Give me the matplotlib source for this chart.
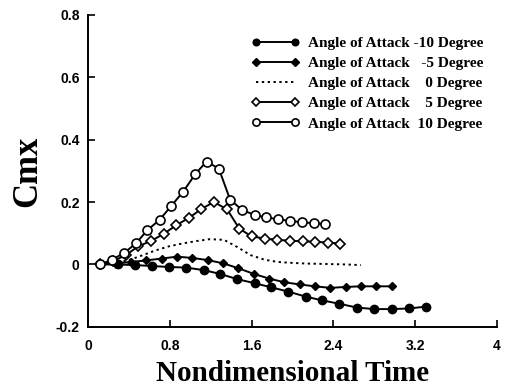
import matplotlib
matplotlib.use("Agg")
import matplotlib.pyplot as plt

# nondimensional time and Cmx, one pair of lists per angle
t_m10 = [0.12, 0.29, 0.46, 0.63, 0.79, 0.96, 1.13, 1.29, 1.46, 1.63,
         1.79, 1.96, 2.13, 2.29, 2.46, 2.63, 2.80, 2.97, 3.14, 3.31]
cmx_m10 = [0.0, 0.0, -0.002, -0.005, -0.008, -0.010, -0.018, -0.030, -0.047, -0.060,
           -0.073, -0.087, -0.103, -0.115, -0.126, -0.138, -0.143, -0.143, -0.141, -0.135]

t_m5 = [0.12, 0.27, 0.42, 0.57, 0.72, 0.87, 1.02, 1.17, 1.32, 1.47,
        1.62, 1.77, 1.92, 2.07, 2.22, 2.37, 2.52, 2.67, 2.82, 2.97]
cmx_m5 = [0.0, 0.003, 0.008, 0.013, 0.019, 0.025, 0.021, 0.014, 0.004, -0.012,
          -0.030, -0.045, -0.057, -0.064, -0.070, -0.075, -0.072, -0.070, -0.070, -0.070]

t_0 = [0.12, 0.25, 0.39, 0.52, 0.66, 0.79, 0.92, 1.06, 1.19, 1.33,
       1.46, 1.59, 1.73, 1.86, 2.00, 2.13, 2.27, 2.40, 2.53, 2.67]
cmx_0 = [0.0, 0.004, 0.013, 0.028, 0.045, 0.058, 0.067, 0.075, 0.081, 0.079,
         0.056, 0.030, 0.015, 0.008, 0.005, 0.003, 0.002, 0.001, 0.0, -0.002]

t_5 = [0.12, 0.24, 0.37, 0.49, 0.62, 0.74, 0.86, 0.99, 1.11, 1.23,
       1.36, 1.48, 1.60, 1.73, 1.85, 1.98, 2.10, 2.22, 2.35, 2.47]
cmx_5 = [0.0, 0.010, 0.030, 0.058, 0.076, 0.098, 0.125, 0.150, 0.178, 0.200,
         0.177, 0.115, 0.090, 0.083, 0.079, 0.076, 0.074, 0.073, 0.070, 0.067]

t_10 = [0.12, 0.23, 0.35, 0.47, 0.58, 0.70, 0.81, 0.93, 1.05, 1.16,
        1.28, 1.39, 1.51, 1.63, 1.74, 1.86, 1.98, 2.09, 2.21, 2.32]
cmx_10 = [0.0, 0.015, 0.036, 0.068, 0.110, 0.143, 0.186, 0.233, 0.290, 0.330,
          0.307, 0.208, 0.174, 0.159, 0.151, 0.145, 0.139, 0.136, 0.132, 0.130]

labels = ["Angle of Attack -10 Degree",
          "Angle of Attack   -5 Degree",
          "Angle of Attack    0 Degree",
          "Angle of Attack    5 Degree",
          "Angle of Attack  10 Degree"]

x_ticks = [0, 0.8, 1.6, 2.4, 3.2, 4]
x_tick_labels = ["0", "0.8", "1.6", "2.4", "3.2", "4"]
y_ticks = [-0.2, 0, 0.2, 0.4, 0.6, 0.8]
y_tick_labels = ["-0.2", "0", "0.2", "0.4", "0.6", "0.8"]

fig = plt.figure(figsize=(5.09, 3.91), dpi=100)
ax = fig.add_axes([0.173, 0.164, 0.803, 0.798])

ax.plot(t_m10, cmx_m10, 'k-', marker='o', markersize=6, linewidth=1.4, label=labels[0])
ax.plot(t_m5, cmx_m5, 'k-', marker='D', markersize=4.5, linewidth=1.4, label=labels[1])
ax.plot(t_0, cmx_0, 'k', linestyle=(0, (1.2, 1.8)), linewidth=1.4, label=labels[2])
ax.plot(t_5, cmx_5, 'k-', marker='D', markersize=5, markerfacecolor='white',
        markeredgewidth=1.2, linewidth=1.4, label=labels[3])
ax.plot(t_10, cmx_10, 'k-', marker='o', markersize=6.5, markerfacecolor='white',
        markeredgewidth=1.2, linewidth=1.4, label=labels[4])

ax.set_xlim(0, 4)
ax.set_ylim(-0.2, 0.8)
ax.set_xticks(x_ticks)
ax.set_xticklabels(x_tick_labels)
ax.set_yticks(y_ticks)
ax.set_yticklabels(y_tick_labels)
ax.tick_params(direction='in', length=5, width=1.2, labelsize=10)
ax.tick_params(axis='x', pad=9)
ax.tick_params(axis='y', pad=6)
for lbl in ax.get_xticklabels() + ax.get_yticklabels():
    lbl.set_family('Liberation Sans')
    lbl.set_fontweight('bold')

ax.spines['top'].set_visible(False)
ax.spines['right'].set_visible(False)
ax.spines['left'].set_linewidth(1.4)
ax.spines['bottom'].set_linewidth(1.4)

ax.set_xlabel('Nondimensional Time', fontsize=21, fontweight='bold',
              family='Liberation Serif', labelpad=4.5)
ax.set_ylabel('Cmx', fontsize=25, fontweight='bold',
              family='Liberation Serif', labelpad=8)

leg = ax.legend(loc='upper right', bbox_to_anchor=(1.0, 0.975), frameon=False,
                numpoints=2, handlelength=3.2, handletextpad=0.5, labelspacing=0.42,
                markerscale=0.8,
                prop={'family': 'Liberation Serif', 'weight': 'bold', 'size': 11})

plt.savefig('out.png', dpi=100)
